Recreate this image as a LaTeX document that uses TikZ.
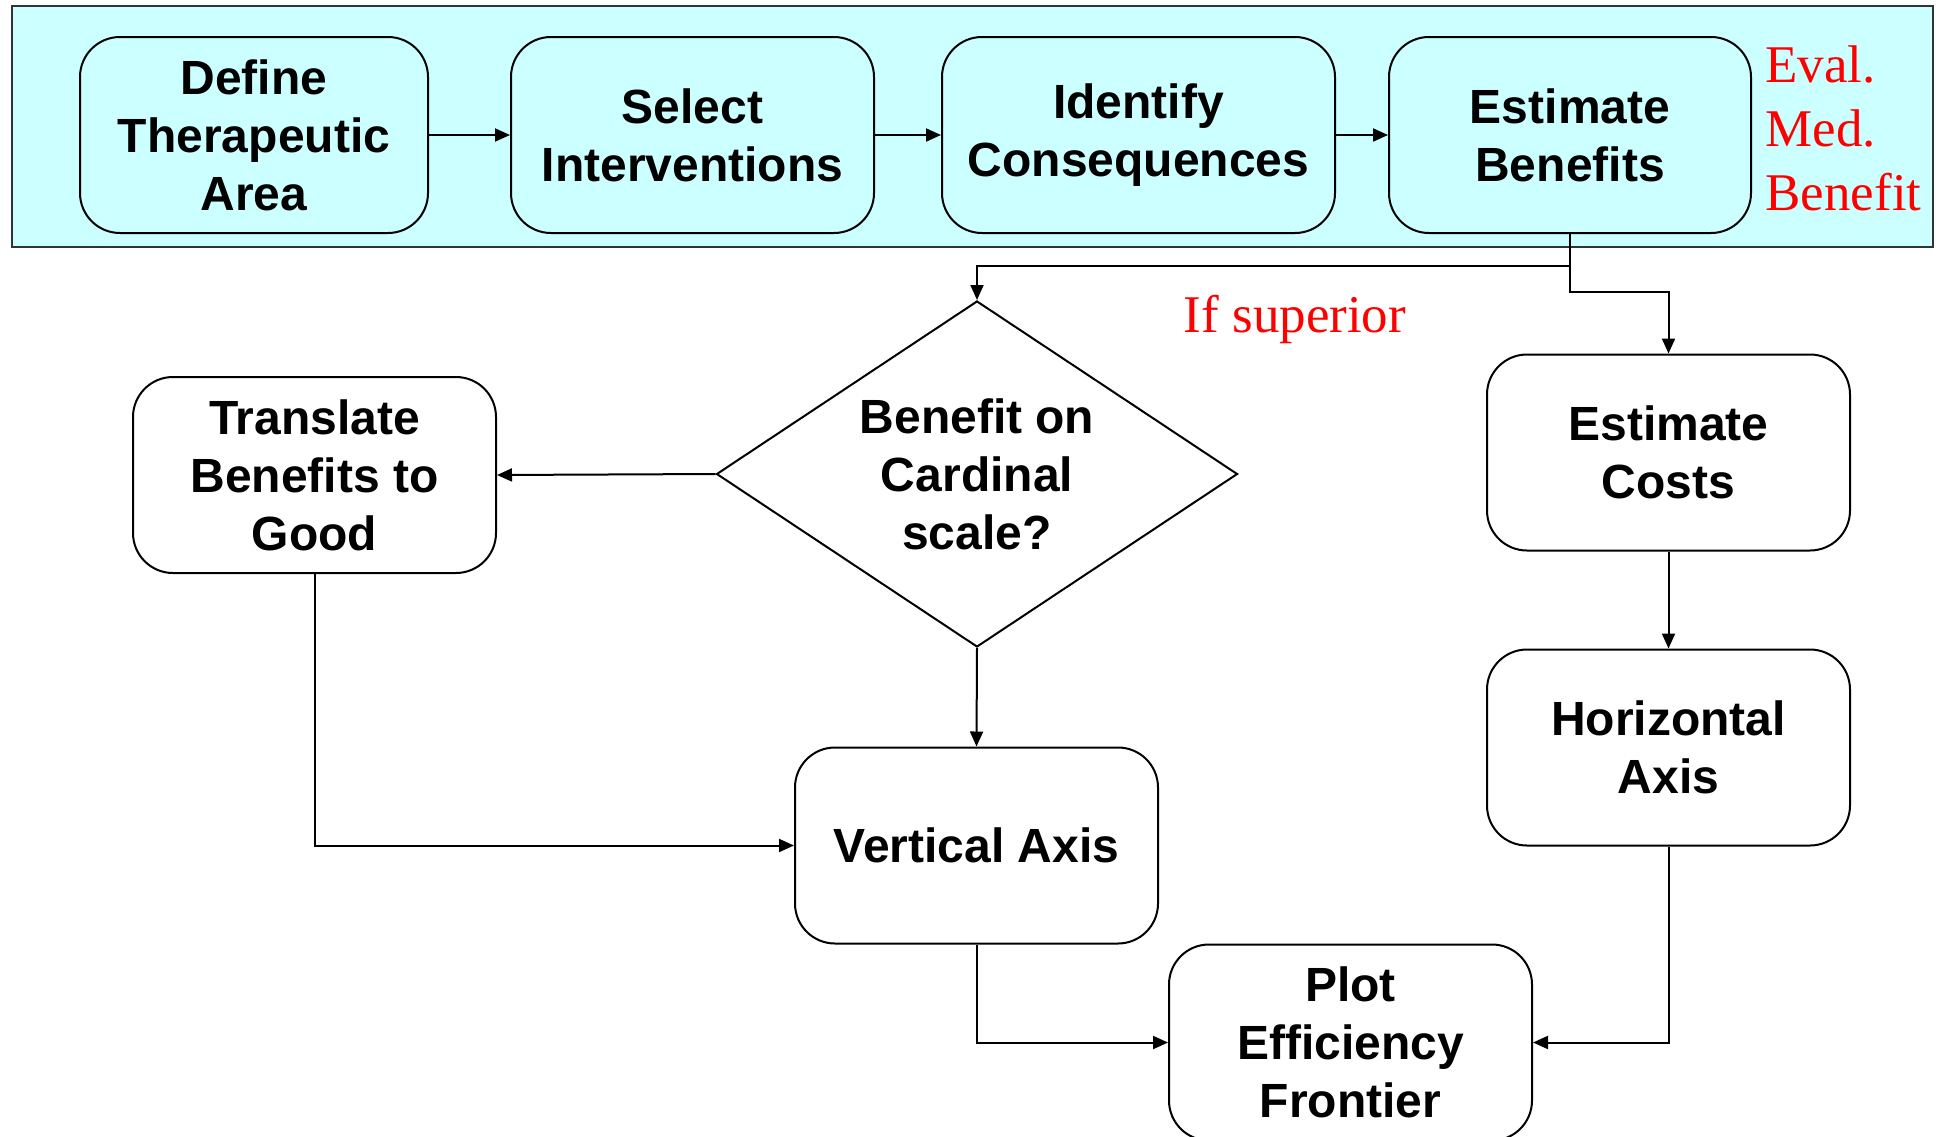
\documentclass[tikz,border=0pt]{standalone}
\usepackage{fontspec}
\setmainfont{Liberation Sans}
\newfontfamily\notefont{Liberation Serif}
\usetikzlibrary{shapes.geometric,arrows.meta}
\definecolor{bandfill}{HTML}{CCFFFF}
\definecolor{notered}{HTML}{FF0000}
\tikzset{
  stepbox/.style={draw=black, line width=2pt, rounded corners=40pt, align=center,
    minimum width=363pt, minimum height=196pt, inner sep=0pt,
    font=\fontsize{48}{58}\selectfont\bfseries},
  topbox/.style={stepbox, fill=bandfill},
  decision/.style={draw=black, line width=2pt, diamond, align=center, inner sep=0pt,
    minimum width=521pt, minimum height=346pt, aspect=1.506,
    font=\fontsize{48}{58}\selectfont\bfseries},
  note/.style={text=notered, font=\fontsize{53}{64}\selectfont\notefont},
  flow/.style={draw=black, line width=2pt, -{Triangle[length=15pt,width=13pt]}}
}
\begin{document}
\begin{tikzpicture}[x=1pt,y=-1pt]
\useasboundingbox (0,0) rectangle (1936,1136);
% shaded band holding the benefit evaluation steps
\draw[fill=bandfill, draw=black!80, line width=2.5pt] (12,6) rectangle (1933,247);
\node[topbox, minimum width=348pt] (def) at (254,135) {Define\\Therapeutic\\Area};
\node[topbox] (sel) at (692.5,135) {Select\\Interventions};
\node[topbox, minimum width=393pt] (ide) at (1138.5,135) {Identify\\Consequences};
\node[topbox, minimum width=362pt] (est) at (1570,135) {Estimate\\Benefits};
\node[note, anchor=west, align=left] (eval) at (1762,128) {Eval.\\Med.\\Benefit};
% lower flow
\node[decision] (card) at (977,474) {Benefit on\\Cardinal\\scale?};
\node[stepbox] (trans) at (314.5,475) {Translate\\Benefits to\\Good};
\node[stepbox] (cost) at (1668.5,452.5) {Estimate\\Costs};
\node[stepbox] (horiz) at (1668.5,747.5) {Horizontal\\Axis};
\node[stepbox] (vert) at (976.5,845.5) {Vertical Axis};
\node[stepbox] (plot) at (1350.5,1042.5) {Plot\\Efficiency\\Frontier};
\node[note] (sup) at (1295,319) {If superior};
% connectors
\draw[flow] (def.east) -- (sel.west);
\draw[flow] (sel.east) -- (ide.west);
\draw[flow] (ide.east) -- (est.west);
\draw[flow] (est.south) |- (977,266) -- (card.north);
\draw[flow] (est.south) |- (1668.5,292) -- (cost.north);
\draw[flow] (card.west) -- (trans.east);
\draw[flow] (card.south) -- (vert.north);
\draw[flow] (cost.south) -- (horiz.north);
\draw[flow] (trans.south) |- (vert.west);
\draw[flow] (vert.south) |- (plot.west);
\draw[flow] (horiz.south) |- (plot.east);
\end{tikzpicture}
\end{document}
